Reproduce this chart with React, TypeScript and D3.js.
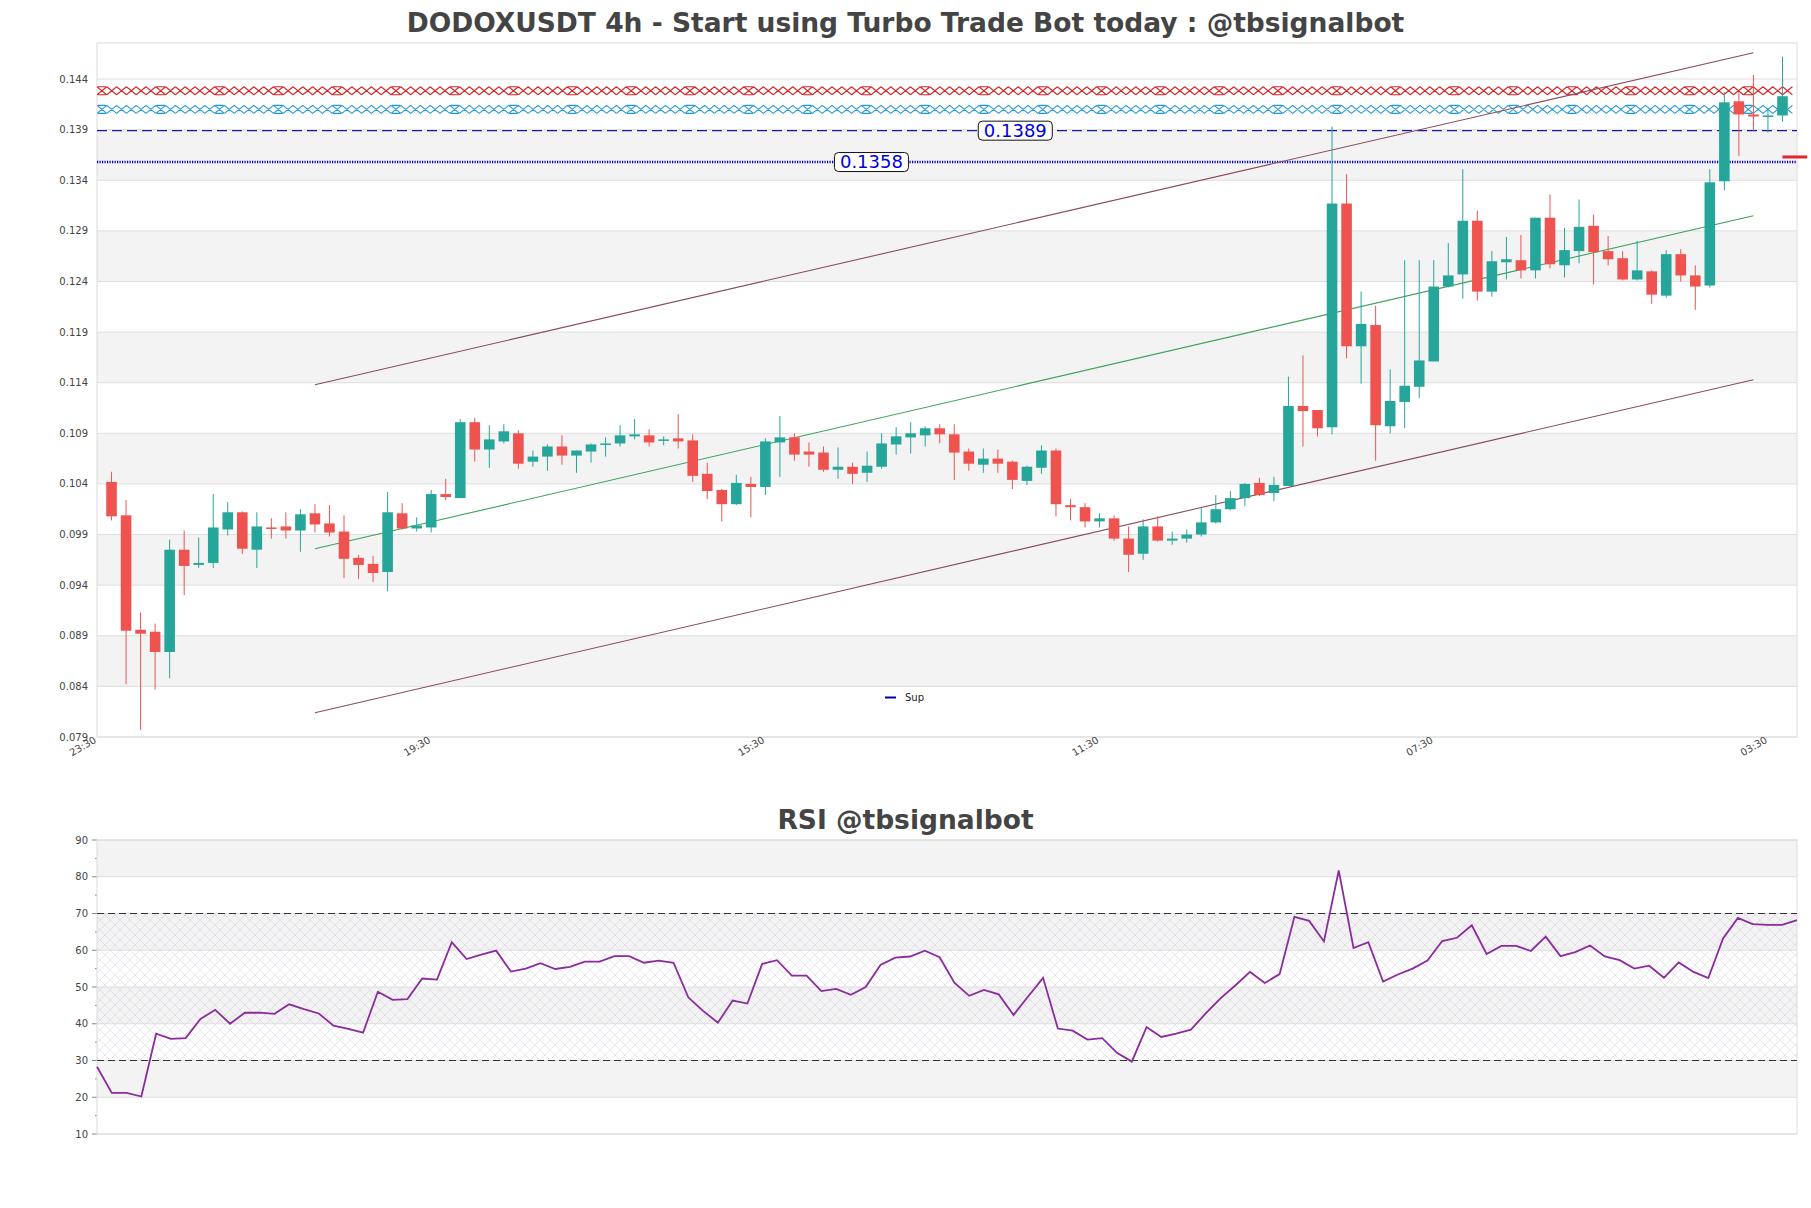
import React from 'react';
import * as d3 from 'd3';

// candles, index 1..116 (4h)
const opens = [
  0.1042, 0.1009, 0.0896, 0.0894, 0.0874, 0.0975, 0.0960, 0.0962, 0.0995, 0.1012,
  0.0975, 0.0997, 0.0998, 0.0994, 0.1011, 0.1001, 0.0993, 0.0967, 0.0961, 0.0953,
  0.1011, 0.0996, 0.0997, 0.1030, 0.1026, 0.1101, 0.1074, 0.1082, 0.1090, 0.1062,
  0.1067, 0.1077, 0.1068, 0.1072, 0.1079, 0.1080, 0.1087, 0.1088, 0.1083, 0.1085,
  0.1083, 0.1050, 0.1034, 0.1020, 0.1040, 0.1037, 0.1081, 0.1086, 0.1072, 0.1071,
  0.1054, 0.1057, 0.1051, 0.1057, 0.1079, 0.1086, 0.1088, 0.1095, 0.1089, 0.1072,
  0.1059, 0.1065, 0.1062, 0.1043, 0.1056, 0.1073, 0.1019, 0.1017, 0.1003, 0.1006,
  0.0986, 0.0971, 0.0998, 0.0984, 0.0986, 0.0990, 0.1002, 0.1015, 0.1026, 0.1041,
  0.1031, 0.1038, 0.1117, 0.1113, 0.1096, 0.1317, 0.1176, 0.1197, 0.1097, 0.1121,
  0.1136, 0.1161, 0.1235, 0.1247, 0.1300, 0.1230, 0.1259, 0.1261, 0.1251, 0.1303,
  0.1256, 0.1270, 0.1295, 0.1270, 0.1263, 0.1242, 0.1250, 0.1226, 0.1267, 0.1246,
  0.1236, 0.1339, 0.1418, 0.1405, 0.1403, 0.1404,
];
const highs = [
  0.1052, 0.1024, 0.0913, 0.0902, 0.0985, 0.0994, 0.0987, 0.1030, 0.1022, 0.1013,
  0.1012, 0.1006, 0.1012, 0.1015, 0.1020, 0.1019, 0.1009, 0.0970, 0.0969, 0.1032,
  0.1021, 0.1007, 0.1034, 0.1045, 0.1104, 0.1105, 0.1098, 0.1099, 0.1093, 0.1073,
  0.1079, 0.1088, 0.1073, 0.1080, 0.1086, 0.1098, 0.1104, 0.1094, 0.1087, 0.1109,
  0.1089, 0.1061, 0.1035, 0.1049, 0.1047, 0.1085, 0.1107, 0.1090, 0.1081, 0.1077,
  0.1076, 0.1061, 0.1072, 0.1090, 0.1096, 0.1101, 0.1097, 0.1099, 0.1099, 0.1075,
  0.1075, 0.1074, 0.1063, 0.1058, 0.1078, 0.1075, 0.1025, 0.1021, 0.1011, 0.1009,
  0.0998, 0.1005, 0.1008, 0.0993, 0.0995, 0.1016, 0.1029, 0.1033, 0.1041, 0.1046,
  0.1047, 0.1146, 0.1167, 0.1113, 0.1393, 0.1346, 0.1230, 0.1216, 0.1153, 0.1261,
  0.1261, 0.1261, 0.1278, 0.1351, 0.1310, 0.1270, 0.1284, 0.1286, 0.1303, 0.1326,
  0.1293, 0.1321, 0.1306, 0.1285, 0.1270, 0.1280, 0.1251, 0.1271, 0.1272, 0.1256,
  0.1351, 0.1427, 0.1427, 0.1444, 0.1411, 0.1462,
];
const lows = [
  0.1004, 0.0842, 0.0797, 0.0837, 0.0848, 0.0930, 0.0957, 0.0957, 0.0989, 0.0971,
  0.0957, 0.0986, 0.0986, 0.0973, 0.0992, 0.0988, 0.0947, 0.0946, 0.0943, 0.0934,
  0.0995, 0.0993, 0.0992, 0.1024, 0.1026, 0.1062, 0.1056, 0.1080, 0.1055, 0.1057,
  0.1053, 0.1059, 0.1051, 0.1061, 0.1067, 0.1077, 0.1084, 0.1077, 0.1078, 0.1075,
  0.1042, 0.1025, 0.1003, 0.1019, 0.1007, 0.1029, 0.1047, 0.1063, 0.1057, 0.1052,
  0.1045, 0.1040, 0.1042, 0.1055, 0.1069, 0.1070, 0.1077, 0.1080, 0.1044, 0.1053,
  0.1051, 0.1051, 0.1035, 0.1039, 0.1050, 0.1008, 0.1004, 0.0997, 0.0997, 0.0984,
  0.0953, 0.0965, 0.0983, 0.0980, 0.0982, 0.0988, 0.1001, 0.1014, 0.1018, 0.1028,
  0.1023, 0.1038, 0.1077, 0.1087, 0.1089, 0.1164, 0.1139, 0.1063, 0.1090, 0.1095,
  0.1125, 0.1161, 0.1234, 0.1223, 0.1221, 0.1225, 0.1242, 0.1243, 0.1243, 0.1253,
  0.1244, 0.1258, 0.1237, 0.1256, 0.1241, 0.1241, 0.1218, 0.1224, 0.1240, 0.1212,
  0.1234, 0.1330, 0.1364, 0.1389, 0.1387, 0.1398,
];
const closes = [
  0.1008, 0.0895, 0.0892, 0.0874, 0.0975, 0.0959, 0.0962, 0.0997, 0.1012, 0.0976,
  0.0998, 0.0996, 0.0994, 0.1010, 0.1000, 0.0992, 0.0966, 0.0960, 0.0952, 0.1012,
  0.0996, 0.0999, 0.1030, 0.1027, 0.1101, 0.1074, 0.1084, 0.1092, 0.1060, 0.1067,
  0.1077, 0.1068, 0.1073, 0.1079, 0.1080, 0.1088, 0.1089, 0.1081, 0.1084, 0.1082,
  0.1048, 0.1033, 0.1020, 0.1041, 0.1037, 0.1082, 0.1086, 0.1069, 0.1069, 0.1054,
  0.1057, 0.1050, 0.1058, 0.1080, 0.1087, 0.1090, 0.1095, 0.1089, 0.1071, 0.1060,
  0.1065, 0.1060, 0.1044, 0.1057, 0.1073, 0.1020, 0.1017, 0.1003, 0.1006, 0.0986,
  0.0970, 0.0998, 0.0984, 0.0986, 0.0990, 0.1002, 0.1015, 0.1026, 0.1040, 0.1029,
  0.1039, 0.1117, 0.1112, 0.1095, 0.1317, 0.1176, 0.1198, 0.1098, 0.1122, 0.1137,
  0.1162, 0.1235, 0.1246, 0.1300, 0.1230, 0.1260, 0.1262, 0.1251, 0.1303, 0.1257,
  0.1271, 0.1294, 0.1269, 0.1262, 0.1242, 0.1251, 0.1227, 0.1267, 0.1246, 0.1235,
  0.1338, 0.1417, 0.1405, 0.1403, 0.1404, 0.1423,
];

const rsi = [
  28.3, 21.2, 21.2, 20.2, 37.3, 35.9, 36.1, 41.3, 43.8, 40.0, 43.0, 43.0, 42.7, 45.3,
  44.0, 42.8, 39.5, 38.6, 37.6, 48.7, 46.5, 46.7, 52.3, 52.0, 62.2, 57.6, 58.8, 59.9,
  54.2, 55.0, 56.5, 54.9, 55.5, 56.9, 56.9, 58.4, 58.4, 56.6, 57.2, 56.6, 47.2, 43.5,
  40.3, 46.3, 45.5, 56.3, 57.3, 53.1, 53.1, 48.9, 49.5, 47.9, 50.0, 56.0, 58.0, 58.3,
  59.9, 58.1, 51.2, 47.6, 49.2, 48.0, 42.4, 47.5, 52.5, 38.7, 38.1, 35.7, 36.1, 32.1,
  29.7, 39.1, 36.4, 37.3, 38.4, 42.8, 46.9, 50.4, 54.1, 51.1, 53.5, 69.1, 68.0, 62.4,
  81.7, 60.6, 62.2, 51.5, 53.4, 55.0, 57.2, 62.5, 63.4, 66.8, 59.0, 61.2, 61.2, 59.8,
  63.7, 58.4, 59.5, 61.3, 58.3, 57.3, 55.0, 55.8, 52.5, 56.7, 54.1, 52.4, 63.2, 68.8,
  67.1, 66.9, 66.9, 68.2,
];

const timeLabels = ['23:30', '19:30', '15:30', '11:30', '07:30', '03:30'];
const timeIdx = [0, 23, 46, 69, 92, 115];

// channel lines: [startIdx, endIdx], values at both ends
const channelIdx = [15, 114];
const upperLine = [0.1138, 0.1466];
const midLine = [0.0976, 0.1305];
const lowerLine = [0.0814, 0.1143];

const redZone = 0.14284;
const blueZone = 0.1410;
const resLevel = 0.1389;
const supLevel = 0.1358;
const lastMark = 0.1363;

const W = 1811;
const H = 1208;
const FONT = 'DejaVu Sans, sans-serif';
const UP = '#26a69a';
const DOWN = '#ef5350';

const x = d3.scaleLinear().domain([0, 117]).range([97, 1797]);
const y = d3.scaleLinear().domain([0.079, 0.14756]).range([737, 43]);
const xr = d3.scaleLinear().domain([0, rsi.length - 1]).range([97, 1797]);
const yr = d3.scaleLinear().domain([10, 90]).range([1134, 840]);

const priceTicks = d3.range(14).map(k => +(0.079 + k * 0.005).toFixed(3));
const rsiTicks = d3.range(10, 91, 10);
const rsiMinor = d3.range(15, 90, 10);

// crossing zig-zag used for the zone lines
function zigPath(v: number) {
  const yy = y(v);
  const h = 4.9, a = 4;
  let d = '';
  let k = 0;
  for (let c = x(0) + h; c + h <= x(117) + 0.1; c += 2 * h, k++) {
    d += `M${c - h},${yy - a}L${c + h},${yy + a}M${c - h},${yy + a}L${c + h},${yy - a}`;
    if (k % 6 === 0) d += `M${c - h * 0.8},${yy - a}L${c + h * 0.8},${yy - a}M${c - h * 0.8},${yy + a}L${c + h * 0.8},${yy + a}`;
  }
  return d;
}

function ValueLabel({ idx, v }: { idx: number; v: number }) {
  const cx = x(idx);
  return (
    <g>
      <rect x={cx - 37} y={y(v) - 9.5} width={74} height={19} rx={4} fill="#fff" stroke="#111" strokeWidth={1} />
      <text x={cx} y={y(v) + 6} textAnchor="middle" fontSize={18} fill="#0000dd" fontFamily={FONT}>{v.toFixed(4)}</text>
    </g>
  );
}

export default function App() {
  const line = d3.line<number>().x((_, i) => xr(i)).y(d => yr(d));
  const bw = 10.6;
  return (
    <div style={{ position: 'absolute', left: 0, top: 0 }}>
      <svg width={W} height={H} style={{ display: 'block', background: '#fff' }} fontFamily={FONT}>
        <defs>
          <pattern id="hatch" width={10} height={10} patternUnits="userSpaceOnUse">
            <path d="M0,0L10,10M10,0L0,10" stroke="#bcaec6" strokeWidth={0.6} strokeOpacity={0.5} />
          </pattern>
          <clipPath id="mainClip">
            <rect x={97} y={43} width={1700} height={694} />
          </clipPath>
        </defs>

        <text x={W / 2} y={32} textAnchor="middle" fontSize={26.5} fontWeight="bold" fill="#444">
          DODOXUSDT 4h - Start using Turbo Trade Bot today : @tbsignalbot
        </text>

        {/* price panel */}
        {priceTicks.slice(0, -1).map((t, k) => k % 2 === 1 ? (
          <rect key={'b' + k} x={97} y={y(priceTicks[k + 1])} width={1700} height={y(t) - y(priceTicks[k + 1])} fill="#f3f3f3" />
        ) : null)}
        {priceTicks.map(t => (
          <g key={'g' + t}>
            <line x1={97} x2={1797} y1={y(t)} y2={y(t)} stroke="#dedede" strokeWidth={1} />
            <text x={88} y={y(t) + 3.5} textAnchor="end" fontSize={10} fill="#444">{t.toFixed(3)}</text>
          </g>
        ))}
        <rect x={97} y={43} width={1700} height={694} fill="none" stroke="#dcdcdc" strokeWidth={1} />

        <g clipPath="url(#mainClip)">
          <path d={zigPath(redZone)} stroke="#d62728" strokeWidth={1.1} fill="none" />
          <path d={zigPath(blueZone)} stroke="#1f96d8" strokeWidth={1.1} fill="none" />
          <line x1={97} x2={1797} y1={y(resLevel)} y2={y(resLevel)} stroke="#1a1aa0" strokeWidth={1.3} strokeDasharray="10,5" />
          <line x1={97} x2={1797} y1={y(supLevel)} y2={y(supLevel)} stroke="#0000cc" strokeWidth={2.5} strokeDasharray="1.2,1.3" />
        </g>

        {[upperLine, lowerLine].map((l, i) => (
          <line key={'c' + i} x1={x(channelIdx[0])} x2={x(channelIdx[1])} y1={y(l[0])} y2={y(l[1])} stroke="#8c4b5e" strokeWidth={1.1} />
        ))}
        <line x1={x(channelIdx[0])} x2={x(channelIdx[1])} y1={y(midLine[0])} y2={y(midLine[1])} stroke="#3fa35a" strokeWidth={1.1} />

        {opens.map((o, i) => {
          const c = closes[i];
          const col = c >= o ? UP : DOWN;
          const cx = x(i + 1);
          const top = y(Math.max(o, c));
          const bh = Math.max(1.5, y(Math.min(o, c)) - top);
          return (
            <g key={'k' + i}>
              <line x1={cx} x2={cx} y1={y(highs[i])} y2={y(lows[i])} stroke={col} strokeWidth={1} />
              <rect x={cx - bw / 2} y={top} width={bw} height={bh} fill={col} />
            </g>
          );
        })}

        <ValueLabel idx={63.2} v={resLevel} />
        <ValueLabel idx={53.3} v={supLevel} />

        <line x1={x(116)} x2={x(117.7)} y1={y(lastMark)} y2={y(lastMark)} stroke="#e4262c" strokeWidth={3} />

        {timeIdx.map((t, i) => (
          <text key={'t' + i} transform={`translate(${x(t)},${742}) rotate(-30)`} textAnchor="end" fontSize={10} fill="#444">
            {timeLabels[i]}
          </text>
        ))}

        <line x1={885} x2={896} y1={697.5} y2={697.5} stroke="#0000aa" strokeWidth={2} />
        <text x={905} y={701} fontSize={10} fill="#222">Sup</text>

        {/* RSI panel */}
        <text x={W / 2} y={829} textAnchor="middle" fontSize={26.5} fontWeight="bold" fill="#444">RSI @tbsignalbot</text>
        {rsiTicks.slice(0, -1).map((t, k) => k % 2 === 1 ? (
          <rect key={'rb' + k} x={97} y={yr(rsiTicks[k + 1])} width={1700} height={yr(t) - yr(rsiTicks[k + 1])} fill="#f3f3f3" />
        ) : null)}
        <rect x={97} y={yr(70)} width={1700} height={yr(30) - yr(70)} fill="url(#hatch)" />
        {rsiTicks.map(t => (
          <g key={'rg' + t}>
            <line x1={97} x2={1797} y1={yr(t)} y2={yr(t)} stroke="#dedede" strokeWidth={1} />
            <line x1={92} x2={97} y1={yr(t)} y2={yr(t)} stroke="#888" strokeWidth={1} />
            <text x={88} y={yr(t) + 3.5} textAnchor="end" fontSize={10} fill="#444">{t}</text>
          </g>
        ))}
        {rsiMinor.map(t => (
          <line key={'rm' + t} x1={95} x2={97} y1={yr(t)} y2={yr(t)} stroke="#888" strokeWidth={1} />
        ))}
        <rect x={97} y={840} width={1700} height={294} fill="none" stroke="#dcdcdc" strokeWidth={1} />
        {[70, 30].map(t => (
          <line key={'rl' + t} x1={97} x2={1797} y1={yr(t)} y2={yr(t)} stroke="#333" strokeWidth={1} strokeDasharray="7,4" />
        ))}
        <path d={line(rsi) || ''} fill="none" stroke="#8b2c9e" strokeWidth={1.8} />
      </svg>
    </div>
  );
}
